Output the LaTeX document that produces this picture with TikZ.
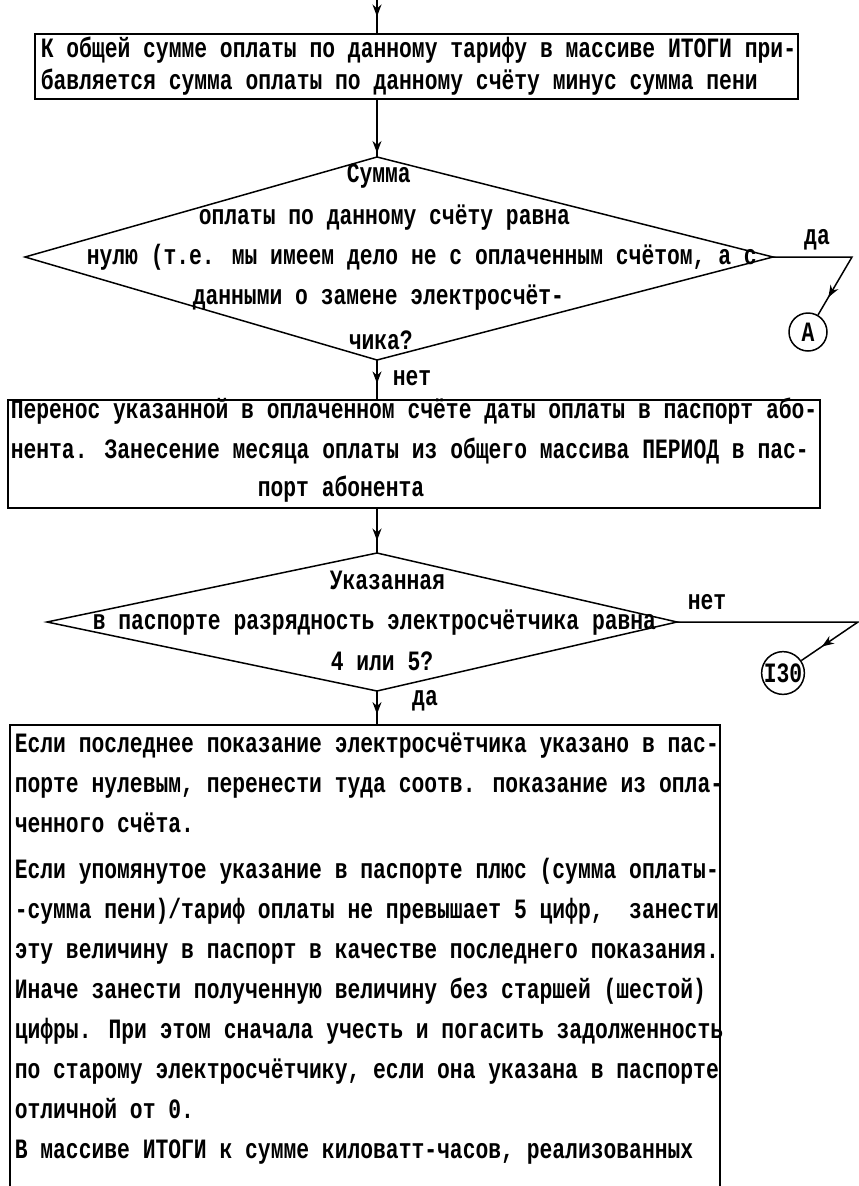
\documentclass[tikz,border=0pt]{standalone}
\usepackage{fontspec}
\usetikzlibrary{arrows.meta,decorations.markings}
\newfontfamily\typew{Liberation Mono}[FakeStretch=0.762]

\begin{document}
\begin{tikzpicture}[x=1pt, y=-1pt, line width=1.5pt, line join=miter,
        box/.style={draw, rectangle, inner sep=0pt, anchor=north west},
        typed/.style={font=\typew\bfseries\fontsize{28}{30}\selectfont, inner sep=0pt, anchor=base west},
        answer/.style={typed, anchor=base},
        ring/.style={draw, circle, inner sep=0pt, minimum size=38pt, font=\typew\bfseries\fontsize{28}{30}\selectfont},
        flow/.style={postaction={decorate}, decoration={markings, mark=at position #1 with {\arrow{Stealth[length=12pt, width=9pt]}}}}]
        \useasboundingbox (0,0) rectangle (859,1186);
        \clip (0,0) rectangle (859,1186);
        % Boxes
        \node[box, minimum width=763pt, minimum height=65pt] (sum) at (34,33) {};
        \node[box, minimum width=812pt, minimum height=108pt] (copy) at (7,399) {};
        \node[box, minimum width=710pt, minimum height=540pt] (reading) at (9,724) {};
        % Decisions
        \coordinate (zn) at (377,157); \coordinate (ze) at (773,257);
        \coordinate (zs) at (377,360); \coordinate (zw) at (25,257);
        \draw (zn) -- (ze) -- (zs) -- (zw) -- cycle;
        \coordinate (rn) at (377,553); \coordinate (re) at (677,622);
        \coordinate (rs) at (377,691); \coordinate (rw) at (47,622);
        \draw (rn) -- (re) -- (rs) -- (rw) -- cycle;
        % Texts
        \foreach \y/\txt [count=\n] in {57/{К общей сумме оплаты по данному тарифу в массиве ИТОГИ при-},
                89/{бавляется сумма оплаты по данному счёту минус сумма пени}} {
          \node[typed] (sum\n) at (40,\y) {\txt};
        }
        \foreach \x/\y/\txt [count=\n] in {346/182/{Сумма}, 198/224/{оплаты по данному счёту равна},
                86/264/{нулю (т.е. мы имеем дело не с оплаченным счётом, а с},
                192/304/{данными о замене электросчёт-}, 348/349/{чика?}} {
          \node[typed] (zero\n) at (\x,\y) {\txt};
        }
        \foreach \x/\y/\txt [count=\n] in {10/418/{Перенос указанной в оплаченном счёте даты оплаты в паспорт або-},
                10/458/{нента. Занесение месяца оплаты из общего массива ПЕРИОД в пас-},
                257/496/{порт абонента}} {
          \node[typed] (copy\n) at (\x,\y) {\txt};
        }
        \foreach \x/\y/\txt [count=\n] in {329/589/{Указанная},
                92/629/{в паспорте разрядность электросчётчика равна}, 330/670/{4 или 5?}} {
          \node[typed] (digits\n) at (\x,\y) {\txt};
        }
        \foreach \y/\txt [count=\n] in {752/{Если последнее показание электросчётчика указано в пас-},
                792/{порте нулевым, перенести туда соотв. показание из опла-},
                832/{ченного счёта.},
                878/{Если упомянутое указание в паспорте плюс (сумма оплаты-},
                918/{-сумма пени)/тариф оплаты не превышает 5 цифр,\ \ занести},
                958/{эту величину в паспорт в качестве последнего показания.},
                998/{Иначе занести полученную величину без старшей (шестой)},
                1038/{цифры. При этом сначала учесть и погасить задолженность},
                1078/{по старому электросчётчику, если она указана в паспорте},
                1118/{отличной от 0.},
                1158/{В массиве ИТОГИ к сумме киловатт-часов, реализованных}} {
          \node[typed] (reading\n) at (14,\y) {\txt};
        }
        % Connectors
        \coordinate (entry) at (377,0);
        \coordinate (yesturn) at (852,257);
        \coordinate (noturn) at (858,622);
        \node[ring] (toA) at (808,332) {A};
        \node[ring, minimum size=40pt] (to130) at (783,673) {I30};
        \draw[flow=0.5] (entry) -- (entry |- sum.north);
        \draw[flow=0.93] (zn |- sum.south) -- (zn);
        \draw[flow=0.6] (zs) -- (zs |- copy.north);
        \draw[flow=0.72] (rn |- copy.south) -- (rn);
        \draw[flow=0.7] (rs) -- (rs |- reading.north);
        \draw[flow=0.86] (ze) -- (yesturn) -- (toA);
        \draw[flow=0.9] (re) -- (noturn) -- (to130);
        % Answers
        \node[answer] (yes1) at (817,244) {да};
        \node[answer] (no1) at (412,385) {нет};
        \node[answer] (no2) at (707,609) {нет};
        \node[answer] (yes2) at (425,705) {да};
\end{tikzpicture}
\end{document}
